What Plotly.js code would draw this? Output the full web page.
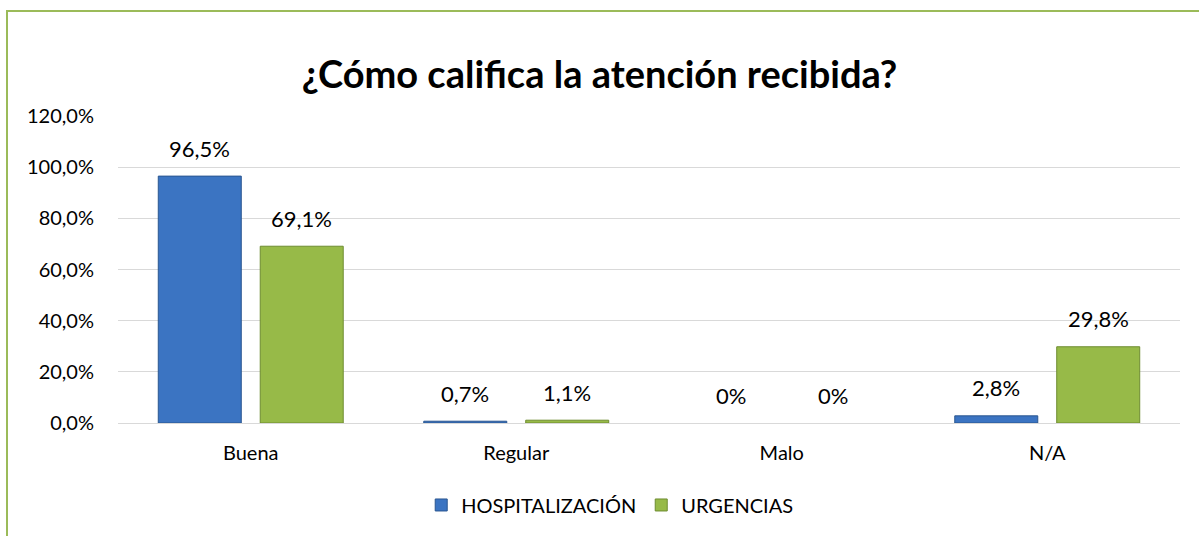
<!DOCTYPE html>
<html>
<head>
<meta charset="utf-8">
<script src="https://cdn.plot.ly/plotly-3.0.1.min.js"></script>
<style>
html,body{margin:0;padding:0;overflow:hidden;background:#fff;}
#wrap{position:relative;width:1199px;height:536px;}
#chart{width:1199px;height:536px;}
#frame{position:absolute;left:6px;top:10px;width:1300px;height:700px;border:2px solid #9BBB59;box-sizing:border-box;pointer-events:none;}
</style>
</head>
<body>
<div id="wrap"><div id="chart"></div><div id="frame"></div></div>
<script>
const categories = ["Buena", "Regular", "Malo", "N/A"];
const hospitalizacion = [96.5, 0.7, 0, 2.8];
const urgencias = [69.1, 1.1, 0, 29.8];
const seriesNames = ["HOSPITALIZACIÓN", "URGENCIAS"];
const yTicks = [0, 20, 40, 60, 80, 100, 120];

const FONT = "Lato, 'Open Sans', sans-serif";
const fmt = v => v === 0 ? "0%" : v.toFixed(1).replace('.', ',') + '%';
const tickText = yTicks.map(v => v.toFixed(1).replace('.', ',') + '%');

const traces = [
  {type:'bar', name:seriesNames[0], x:categories, y:hospitalizacion,
   marker:{color:'#3B74C2', line:{color:'#2A5690', width:hospitalizacion.map(v => v === 0 ? 0 : 1)}}},
  {type:'bar', name:seriesNames[1], x:categories, y:urgencias,
   marker:{color:'#97BA48', line:{color:'#6E8C30', width:urgencias.map(v => v === 0 ? 0 : 1)}}}
];

const annotations = [];
[hospitalizacion, urgencias].forEach((arr, si) => {
  arr.forEach((v, i) => {
    annotations.push({x:i, y:v, xref:'x', yref:'y', text:fmt(v), showarrow:false,
      xshift: si === 0 ? -51 : 51, yshift: 28, yanchor:'middle',
      font:{family:FONT, size:22, color:'#000'}});
  });
});

const layout = {
  width:1199, height:536,
  margin:{l:118, r:19, t:116, b:113},
  paper_bgcolor:'#fff', plot_bgcolor:'#fff',
  font:{family:FONT, color:'#000'},
  title:{text:'¿Cómo califica la atención recibida?', xref:'container', x:0.5, xanchor:'center',
         yref:'container', y:1-75/536, yanchor:'middle',
         font:{family:FONT, size:38, color:'#000', weight:'bold'}},
  barmode:'group', bargap:0.232, bargroupgap:0.186,
  xaxis:{type:'category', showgrid:false, zeroline:false, showline:true, linecolor:'#D9D9D9', linewidth:1,
         ticks:'', tickfont:{family:FONT, size:20, color:'#000'}, ticklabelstandoff:12},
  yaxis:{range:[0,120], tickmode:'array', tickvals:yTicks, ticktext:tickText, showgrid:true,
         gridcolor:'#D9D9D9', gridwidth:1, zeroline:false, showline:false, ticks:'',
         tickfont:{family:FONT, size:20, color:'#000'}, ticklabelstandoff:23},
  legend:{orientation:'h', x:0.463, xanchor:'center', y:-0.267, yanchor:'middle',
          font:{family:FONT, size:20, color:'#000'}, itemwidth:30, traceorder:'normal'},
  annotations:annotations,
  showlegend:true
};

Plotly.newPlot('chart', traces, layout, {displayModeBar:false, staticPlot:true});
</script>
</body>
</html>
